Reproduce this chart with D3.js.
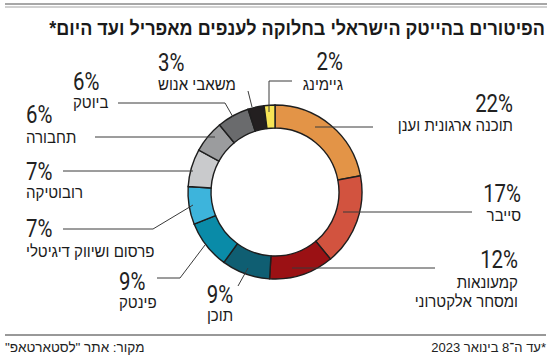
<!DOCTYPE html>
<html><head><meta charset="utf-8">
<script src="https://cdn.jsdelivr.net/npm/d3@7"></script>
<style>
html,body{margin:0;padding:0;background:#fff;}
svg{display:block;}
text{font-family:"Liberation Sans",Arial,sans-serif;}
</style></head>
<body>
<svg id="chart" width="550" height="361"></svg>
<script>
// ---- data ----
const categories = ["תוכנה ארגונית וענן","סייבר","קמעונאות ומסחר אלקטרוני","תוכן","פינטק","פרסום ושיווק דיגיטלי","רובוטיקה","תחבורה","ביוטק","משאבי אנוש","גיימינג"];
const nameLines = [["תוכנה ארגונית וענן"],["סייבר"],["קמעונאות","ומסחר אלקטרוני"],["תוכן"],["פינטק"],["פרסום ושיווק דיגיטלי"],["רובוטיקה"],["תחבורה"],["ביוטק"],["משאבי אנוש"],["גיימינג"]];
const values = [22,17,12,9,9,7,7,6,6,3,2];
const colors = ["#E39447","#D2533F","#9B1114","#0F5E72","#0A8BA8","#3DB4DC","#C9CACC","#9B9C9E","#6A6B6D","#231F20","#F7E556"];
const title = "הפיטורים בהייטק הישראלי בחלוקה לענפים מאפריל ועד היום*";
const sourceNote = "מקור: אתר \"לסטארטאפ\"";
const dateNote = "*עד ה־8 בינואר 2023";

// ---- layout (label placement) ----
const layout = [
  {ax:"R", x:513, py:112, ny:[131], line:[[373,127],[315,127]]},
  {ax:"R", x:521, py:202, ny:[221], line:[[472,212],[343,212]]},
  {ax:"R", x:518, py:268, ny:[288,307], line:[[435,268],[292,268]]},
  {ax:"C", x:220, py:303, ny:[321], line:[[238,286],[248,268]]},
  {ax:"L", x:119, py:290, ny:[308], line:[[157,278],[180,278],[205,245]]},
  {ax:"L", x:26, py:237, ny:[257], line:[[63,229],[153,229],[193,205]]},
  {ax:"L", x:26, py:180, ny:[198], line:[[63,171],[193,171]]},
  {ax:"L", x:26, py:123, ny:[143], line:[[95,137],[215,137]]},
  {ax:"L", x:73, py:90, ny:[108], line:[[118,103],[225,103],[233,117]]},
  {ax:"L", x:158, py:71, ny:[90], line:[[248,91],[252,107]]},
  {ax:"R", x:343, py:70, ny:[90], line:[[292,81],[269,81],[269,112]]}
];

const svg = d3.select("#chart");

// top rules
svg.append("line").attr("x1",5).attr("x2",547).attr("y1",4).attr("y2",4).attr("stroke","#8a8a8a").attr("stroke-width",1.6);
svg.append("line").attr("x1",5).attr("x2",547).attr("y1",7).attr("y2",7).attr("stroke","#8a8a8a").attr("stroke-width",0.8);

// title
svg.append("g").attr("transform","translate(545,35) scale(0.925,1)")
  .append("text").attr("x",0).attr("y",0).attr("direction","rtl").attr("text-anchor","start")
  .attr("font-size",19.5).attr("font-weight","bold").attr("fill","#1a1a1a").text(title);

// donut
const cx = 275, cy = 192;
const pie = d3.pie().sort(null).value(d=>d)(values);
const arc = d3.arc().innerRadius(64).outerRadius(87);
const g = svg.append("g").attr("transform",`translate(${cx},${cy})`);
g.selectAll("path").data(pie).join("path")
  .attr("d",arc).attr("fill",(d,i)=>colors[i])
  .attr("stroke","#1e1e1e").attr("stroke-width",1.4).attr("stroke-linejoin","miter");

// leader lines
const lineGen = d3.line();
svg.append("g").selectAll("path").data(layout).join("path")
  .attr("d",d=>lineGen(d.line)).attr("fill","none").attr("stroke","#3a3a3a").attr("stroke-width",1);

// labels
const anchorOf = a => a==="R" ? "start" : (a==="L" ? "end" : "middle");
const lg = svg.append("g");
layout.forEach((d,i)=>{
  lg.append("g").attr("transform",`translate(${d.x},${d.py}) scale(0.77,1)`)
    .append("text").attr("x",0).attr("y",0).attr("direction","rtl")
    .attr("text-anchor",anchorOf(d.ax))
    .style("font-family","Roboto,'Liberation Sans',sans-serif").attr("font-weight",400)
    .attr("font-size",26.5).attr("fill","#222").text(values[i]+"%");
  nameLines[i].forEach((t,j)=>{
    lg.append("g").attr("transform",`translate(${d.x},${d.ny[j]}) scale(0.94,1)`)
      .append("text").attr("x",0).attr("y",0).attr("direction","rtl")
      .attr("text-anchor",anchorOf(d.ax)).attr("font-size",16).attr("fill","#1a1a1a").text(t);
  });
});

// bottom rule + notes
svg.append("line").attr("x1",5).attr("x2",546).attr("y1",335).attr("y2",335).attr("stroke","#333").attr("stroke-width",1);
svg.append("text").attr("x",546).attr("y",352).attr("direction","rtl").attr("text-anchor","start")
  .attr("font-size",13).attr("fill","#222").text(dateNote);
svg.append("text").attr("x",5).attr("y",352).attr("direction","rtl").attr("text-anchor","end")
  .attr("font-size",13.5).attr("fill","#222").text(sourceNote);
</script>
</body></html>
